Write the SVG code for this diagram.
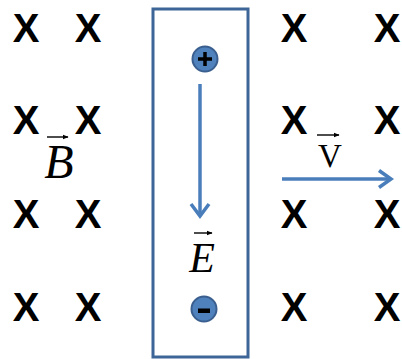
<svg xmlns="http://www.w3.org/2000/svg" width="402" height="359" viewBox="0 0 402 359">
<style>
.x{font-family:"Liberation Sans",Arial,sans-serif;font-weight:bold;font-size:40px;text-anchor:middle;fill:#000}
.sym{font-family:"Liberation Serif","Times New Roman",serif;fill:#000;text-anchor:middle}
.vec{stroke:#000;stroke-width:1.4;fill:none}
.big{stroke:#4a7ebb;stroke-width:3.5;fill:none;stroke-linecap:butt;stroke-linejoin:miter}
.chg{fill:#4f81bd;stroke:#3a5f8f;stroke-width:2}
</style>
<defs>
<marker id="sa" viewBox="0 0 10 10" refX="9" refY="5" markerWidth="6" markerHeight="6" markerUnits="userSpaceOnUse" orient="auto">
<path d="M0,1 L10,5 L0,9 Z" fill="#000"/>
</marker>
</defs>
<rect width="402" height="359" fill="#fff"/>
<g id="field">
<text class="x" x="26" y="42">X</text>
<text class="x" x="88" y="42">X</text>
<text class="x" x="294" y="42">X</text>
<text class="x" x="387" y="42">X</text>
<text class="x" x="26" y="134">X</text>
<text class="x" x="88" y="134">X</text>
<text class="x" x="294" y="134">X</text>
<text class="x" x="387" y="134">X</text>
<text class="x" x="26" y="228">X</text>
<text class="x" x="88" y="228">X</text>
<text class="x" x="294" y="228">X</text>
<text class="x" x="387" y="228">X</text>
<text class="x" x="26" y="321">X</text>
<text class="x" x="88" y="321">X</text>
<text class="x" x="294" y="321">X</text>
<text class="x" x="387" y="321">X</text>
</g>
<g id="B-label">
<text class="sym" x="59" y="178" font-size="48" font-style="italic">B</text>
<line class="vec" x1="47" y1="137" x2="68" y2="137" marker-end="url(#sa)"/>
</g>
<g id="plate">
<rect x="153" y="9" width="95" height="348" fill="none" stroke="#3d6597" stroke-width="3"/>
</g>
<g id="plus">
<circle class="chg" cx="205" cy="59" r="12.5"/>
<path d="M198,59 H212 M205,52 V66" stroke="#000" stroke-width="3.5" fill="none"/>
</g>
<g id="minus">
<circle class="chg" cx="204" cy="309" r="12.5"/>
<rect x="198" y="308.5" width="12" height="4.5" fill="#000"/>
</g>
<g id="E-label">
<text class="sym" x="202" y="272" font-size="42" font-style="italic">E</text>
<line class="vec" x1="194" y1="233" x2="212" y2="233" marker-end="url(#sa)"/>
</g>
<g id="v-label">
<text class="sym" x="330" y="167" font-size="33">V</text>
<line class="vec" x1="317" y1="135" x2="339" y2="135" marker-end="url(#sa)"/>
</g>
<g id="connectors">
<path class="big" d="M200,84 V216"/>
<path class="big" d="M191,204 L200,216 L209,204"/>
<path class="big" d="M282,179 H390"/>
<path class="big" d="M379,170.5 L391,179 L379,187.5"/>
</g>
</svg>
